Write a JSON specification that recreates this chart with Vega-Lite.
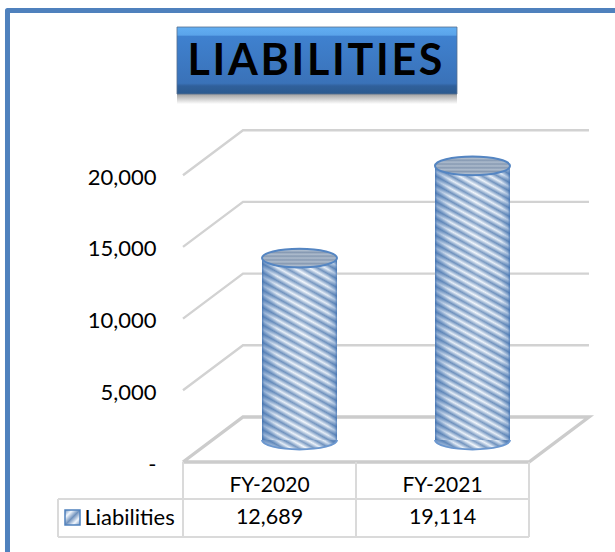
{
"$schema":"https://vega.github.io/schema/vega-lite/v6.json",
"width":615,"height":552,"padding":0,"autosize":{"type":"none"},"background":"white",
"view":{"stroke":null},
"config":{"text":{"font":"Lato","fontSize":21.5,"color":"#000"},"axis":{"labelFont":"Lato"}},
"datasets":{
"main":[{"year":"FY-2020","pos":0.5,"value":12689},{"year":"FY-2021","pos":1.5,"value":19114}],
"frame":[{"seq":1,"pos":-1.0145,"value":-6276},{"seq":2,"pos":-1.0145,"value":31485},{"seq":3,"pos":2.4971,"value":31485}],
"grid":[
{"level":5000,"pos":0,"value":5000},{"level":5000,"pos":0.3468,"value":8138},{"level":5000,"pos":2.3468,"value":8138},
{"level":10000,"pos":0,"value":10000},{"level":10000,"pos":0.3468,"value":13138},{"level":10000,"pos":2.3468,"value":13138},
{"level":15000,"pos":0,"value":15000},{"level":15000,"pos":0.3468,"value":18138},{"level":15000,"pos":2.3468,"value":18138},
{"level":20000,"pos":0,"value":20000},{"level":20000,"pos":0.3468,"value":23138},{"level":20000,"pos":2.3468,"value":23138}],
"floor":[{"seq":1,"pos":0,"value":0},{"seq":2,"pos":0.3468,"value":3138},{"seq":3,"pos":2.3468,"value":3138},{"seq":4,"pos":2,"value":0},{"seq":5,"pos":0,"value":0}],
"table":[
{"pos":-0.7225,"pos2":2,"value":-2580,"value2":-2580},
{"pos":-0.7225,"pos2":2,"value":-5230,"value2":-5230},
{"pos":-0.7225,"pos2":-0.7225,"value":-2580,"value2":-5230},
{"pos":0,"pos2":0,"value":0,"value2":-5230},
{"pos":1,"pos2":1,"value":0,"value2":-5230},
{"pos":2,"pos2":2,"value":0,"value2":-5230}],
"titleBox":[{"pos":-0.0347,"pos2":1.5838,"value":30335,"value2":25662}],
"titleText":[{"label":"L\u200aI\u200aA\u200aB\u200aI\u200aL\u200aI\u200aT\u200aI\u200aE\u200aS","pos":0.763,"value":27894}],
"titleShadow":[{"pos":-0.0347,"pos2":1.5838,"value":25662,"value2":24960}],
"swatch":[{"pos":-0.6821,"pos2":-0.5954,"value":-3347,"value2":-4393}]
},
"encoding":{
"x":{"field":"pos","type":"quantitative","scale":{"domain":[-1.0578,2.4971],"nice":false,"zero":false,"padding":0},"axis":null},
"y":{"field":"value","type":"quantitative","scale":{"domain":[-6276,32218],"nice":false,"zero":false,"padding":0},
"axis":{"title":null,"values":[0,5000,10000,15000,20000],"offset":-156,"domain":false,"ticks":false,"grid":false,"labelPadding":0,"labelOffset":2,"labelFontSize":22,"labelColor":"#000","labelFont":"Lato","labelOverlap":false,"labelBound":false,"labelFlush":false,"labelExpr":"datum.value==0?'-\u00a0\u00a0\u00a0':format(datum.value,',')"}}
},
"layer":[
{"data":{"name":"frame"},"mark":{"type":"line","stroke":"#4f81bd","strokeWidth":5,"strokeJoin":"round"},"encoding":{"order":{"field":"seq"}}},
{"data":{"name":"grid"},"mark":{"type":"line","stroke":"#d2d2d2","strokeWidth":2.4},"encoding":{"detail":{"field":"level"}}},
{"data":{"name":"floor"},"mark":{"type":"line","stroke":"#cccccc","strokeWidth":3.4},"encoding":{"order":{"field":"seq"}}},
{"data":{"name":"titleShadow"},"mark":{"type":"rect","fill":{"gradient":"linear","x1":0,"y1":0,"x2":0,"y2":1,"stops":[{"offset":0,"color":"#a0a0a0"},{"offset":1,"color":"#ffffff"}]}},"encoding":{"x2":{"field":"pos2"},"y2":{"field":"value2"}}},
{"data":{"name":"titleBox"},"mark":{"type":"rect","stroke":"#55708f","strokeWidth":0.8,"fill":{"gradient":"linear","x1":0,"y1":0,"x2":0,"y2":1,"stops":[{"offset":0,"color":"#62aef2"},{"offset":0.12,"color":"#5aa4ea"},{"offset":0.14,"color":"#3f81cf"},{"offset":0.84,"color":"#3a72b8"},{"offset":0.88,"color":"#30609b"},{"offset":1,"color":"#2c5a8e"}]}},"encoding":{"x2":{"field":"pos2"},"y2":{"field":"value2"}}},
{"data":{"name":"titleText"},"mark":{"type":"text","font":"Lato","fontWeight":"bold","fontSize":43,"align":"center","baseline":"middle","color":"#000"},"encoding":{"text":{"field":"label"}}},
{"data":{"name":"main"},"transform":[{"filter":"datum.year=='FY-2020'"}],"mark":{"type":"bar","width":75,"xOffset":30,"yOffset":-22,"y2Offset":-22,"fill":{"gradient":"linear","x1":0.261,"y1":-0.15,"x2":0.002,"y2":0.99,"stops":[
{"offset":0,"color":"#7092bd"},{"offset":0.02,"color":"#f2f7fd"},{"offset":0.04,"color":"#7092bd"},{"offset":0.06,"color":"#f2f7fd"},{"offset":0.08,"color":"#7092bd"},{"offset":0.1,"color":"#f2f7fd"},{"offset":0.12,"color":"#7092bd"},{"offset":0.14,"color":"#f2f7fd"},{"offset":0.16,"color":"#7092bd"},{"offset":0.18,"color":"#f2f7fd"},{"offset":0.2,"color":"#7092bd"},{"offset":0.22,"color":"#f2f7fd"},{"offset":0.24,"color":"#7092bd"},{"offset":0.26,"color":"#f2f7fd"},{"offset":0.28,"color":"#7092bd"},{"offset":0.3,"color":"#f2f7fd"},{"offset":0.32,"color":"#7092bd"},{"offset":0.34,"color":"#f2f7fd"},{"offset":0.36,"color":"#7092bd"},{"offset":0.38,"color":"#f2f7fd"},{"offset":0.4,"color":"#7092bd"},{"offset":0.42,"color":"#f2f7fd"},{"offset":0.44,"color":"#7092bd"},{"offset":0.46,"color":"#f2f7fd"},{"offset":0.48,"color":"#7092bd"},{"offset":0.5,"color":"#f2f7fd"},{"offset":0.52,"color":"#7092bd"},{"offset":0.54,"color":"#f2f7fd"},{"offset":0.56,"color":"#7092bd"},{"offset":0.58,"color":"#f2f7fd"},{"offset":0.6,"color":"#7092bd"},{"offset":0.62,"color":"#f2f7fd"},{"offset":0.64,"color":"#7092bd"},{"offset":0.66,"color":"#f2f7fd"},{"offset":0.68,"color":"#7092bd"},{"offset":0.7,"color":"#f2f7fd"},{"offset":0.72,"color":"#7092bd"},{"offset":0.74,"color":"#f2f7fd"},{"offset":0.76,"color":"#7092bd"},{"offset":0.78,"color":"#f2f7fd"},{"offset":0.8,"color":"#7092bd"},{"offset":0.82,"color":"#f2f7fd"},{"offset":0.84,"color":"#7092bd"},{"offset":0.86,"color":"#f2f7fd"},{"offset":0.88,"color":"#7092bd"},{"offset":0.9,"color":"#f2f7fd"},{"offset":0.92,"color":"#7092bd"},{"offset":0.94,"color":"#f2f7fd"},{"offset":0.96,"color":"#7092bd"},{"offset":0.98,"color":"#f2f7fd"},{"offset":1,"color":"#7092bd"}]}},"encoding":{"y2":{"datum":0}}},
{"data":{"name":"main"},"transform":[{"filter":"datum.year=='FY-2021'"}],"mark":{"type":"bar","width":75,"xOffset":30,"yOffset":-22,"y2Offset":-22,"fill":{"gradient":"linear","x1":0.169,"y1":-0.125,"x2":-0.013,"y2":1.087,"stops":[
{"offset":0,"color":"#7092bd"},{"offset":0.0125,"color":"#f2f7fd"},{"offset":0.025,"color":"#7092bd"},{"offset":0.0375,"color":"#f2f7fd"},{"offset":0.05,"color":"#7092bd"},{"offset":0.0625,"color":"#f2f7fd"},{"offset":0.075,"color":"#7092bd"},{"offset":0.0875,"color":"#f2f7fd"},{"offset":0.1,"color":"#7092bd"},{"offset":0.1125,"color":"#f2f7fd"},{"offset":0.125,"color":"#7092bd"},{"offset":0.1375,"color":"#f2f7fd"},{"offset":0.15,"color":"#7092bd"},{"offset":0.1625,"color":"#f2f7fd"},{"offset":0.175,"color":"#7092bd"},{"offset":0.1875,"color":"#f2f7fd"},{"offset":0.2,"color":"#7092bd"},{"offset":0.2125,"color":"#f2f7fd"},{"offset":0.225,"color":"#7092bd"},{"offset":0.2375,"color":"#f2f7fd"},{"offset":0.25,"color":"#7092bd"},{"offset":0.2625,"color":"#f2f7fd"},{"offset":0.275,"color":"#7092bd"},{"offset":0.2875,"color":"#f2f7fd"},{"offset":0.3,"color":"#7092bd"},{"offset":0.3125,"color":"#f2f7fd"},{"offset":0.325,"color":"#7092bd"},{"offset":0.3375,"color":"#f2f7fd"},{"offset":0.35,"color":"#7092bd"},{"offset":0.3625,"color":"#f2f7fd"},{"offset":0.375,"color":"#7092bd"},{"offset":0.3875,"color":"#f2f7fd"},{"offset":0.4,"color":"#7092bd"},{"offset":0.4125,"color":"#f2f7fd"},{"offset":0.425,"color":"#7092bd"},{"offset":0.4375,"color":"#f2f7fd"},{"offset":0.45,"color":"#7092bd"},{"offset":0.4625,"color":"#f2f7fd"},{"offset":0.475,"color":"#7092bd"},{"offset":0.4875,"color":"#f2f7fd"},{"offset":0.5,"color":"#7092bd"},{"offset":0.5125,"color":"#f2f7fd"},{"offset":0.525,"color":"#7092bd"},{"offset":0.5375,"color":"#f2f7fd"},{"offset":0.55,"color":"#7092bd"},{"offset":0.5625,"color":"#f2f7fd"},{"offset":0.575,"color":"#7092bd"},{"offset":0.5875,"color":"#f2f7fd"},{"offset":0.6,"color":"#7092bd"},{"offset":0.6125,"color":"#f2f7fd"},{"offset":0.625,"color":"#7092bd"},{"offset":0.6375,"color":"#f2f7fd"},{"offset":0.65,"color":"#7092bd"},{"offset":0.6625,"color":"#f2f7fd"},{"offset":0.675,"color":"#7092bd"},{"offset":0.6875,"color":"#f2f7fd"},{"offset":0.7,"color":"#7092bd"},{"offset":0.7125,"color":"#f2f7fd"},{"offset":0.725,"color":"#7092bd"},{"offset":0.7375,"color":"#f2f7fd"},{"offset":0.75,"color":"#7092bd"},{"offset":0.7625,"color":"#f2f7fd"},{"offset":0.775,"color":"#7092bd"},{"offset":0.7875,"color":"#f2f7fd"},{"offset":0.8,"color":"#7092bd"},{"offset":0.8125,"color":"#f2f7fd"},{"offset":0.825,"color":"#7092bd"},{"offset":0.8375,"color":"#f2f7fd"},{"offset":0.85,"color":"#7092bd"},{"offset":0.8625,"color":"#f2f7fd"},{"offset":0.875,"color":"#7092bd"},{"offset":0.8875,"color":"#f2f7fd"},{"offset":0.9,"color":"#7092bd"},{"offset":0.9125,"color":"#f2f7fd"},{"offset":0.925,"color":"#7092bd"},{"offset":0.9375,"color":"#f2f7fd"},{"offset":0.95,"color":"#7092bd"},{"offset":0.9625,"color":"#f2f7fd"},{"offset":0.975,"color":"#7092bd"},{"offset":0.9875,"color":"#f2f7fd"},{"offset":1,"color":"#7092bd"}]}},"encoding":{"y2":{"datum":0}}},
{"data":{"name":"main"},"mark":{"type":"point","filled":true,"opacity":1,"size":5625,"shape":"M-1,0A1,0.25 0 0,0 1,0","xOffset":30,"yOffset":-22,"fill":{"gradient":"linear","x1":0,"y1":1,"x2":1.229,"y2":0.72,"stops":[{"offset":0,"color":"#f2f7fd"},{"offset":0.08,"color":"#7092bd"},{"offset":0.16,"color":"#f2f7fd"},{"offset":0.24,"color":"#7092bd"},{"offset":0.32,"color":"#f2f7fd"},{"offset":0.4,"color":"#7092bd"},{"offset":0.48,"color":"#f2f7fd"},{"offset":0.56,"color":"#7092bd"},{"offset":0.64,"color":"#f2f7fd"},{"offset":0.72,"color":"#7092bd"},{"offset":0.8,"color":"#f2f7fd"},{"offset":0.88,"color":"#7092bd"},{"offset":1,"color":"#f2f7fd"}]}},"encoding":{"y":{"datum":0}}},
{"data":{"name":"main"},"mark":{"type":"point","filled":true,"opacity":1,"size":5625,"shape":"M-1,0A1,0.25 0 0,0 1,0","xOffset":30,"yOffset":-22,"stroke":"#6b97cf","strokeWidth":2,"fill":{"gradient":"linear","x1":0,"y1":0.5,"x2":1,"y2":0.5,"stops":[{"offset":0,"color":"rgba(60,110,175,0.7)"},{"offset":0.25,"color":"rgba(70,120,180,0.1)"},{"offset":0.55,"color":"rgba(255,255,255,0.1)"},{"offset":0.85,"color":"rgba(70,120,180,0.1)"},{"offset":1,"color":"rgba(60,110,175,0.7)"}]}},"encoding":{"y":{"datum":0}}},
{"data":{"name":"main"},"mark":{"type":"bar","width":75,"xOffset":30,"yOffset":-22,"y2Offset":-22,"fill":{"gradient":"linear","x1":0,"y1":0.5,"x2":1,"y2":0.5,"stops":[{"offset":0,"color":"rgba(60,110,175,0.85)"},{"offset":0.03,"color":"rgba(60,110,175,0.5)"},{"offset":0.2,"color":"rgba(70,120,180,0.08)"},{"offset":0.55,"color":"rgba(255,255,255,0.12)"},{"offset":0.88,"color":"rgba(70,120,180,0.08)"},{"offset":0.97,"color":"rgba(60,110,175,0.4)"},{"offset":1,"color":"rgba(60,110,175,0.8)"}]}},"encoding":{"y2":{"datum":0}}},
{"data":{"name":"main"},"mark":{"type":"point","filled":true,"opacity":1,"size":5625,"shape":"M-1,0A1,0.25 0 1,1 1,0A1,0.25 0 1,1 -1,0Z","xOffset":30,"yOffset":-22,"stroke":"#5485c2","strokeWidth":2,"fill":{"gradient":"linear","x1":0,"y1":0,"x2":0,"y2":1,"stops":[{"offset":0,"color":"#8699b2"},{"offset":0.1,"color":"#aebccd"},{"offset":0.2,"color":"#8699b2"},{"offset":0.3,"color":"#aebccd"},{"offset":0.4,"color":"#8699b2"},{"offset":0.5,"color":"#aebccd"},{"offset":0.6,"color":"#8699b2"},{"offset":0.7,"color":"#aebccd"},{"offset":0.8,"color":"#8699b2"},{"offset":0.9,"color":"#aebccd"},{"offset":1,"color":"#8699b2"}]}}},
{"data":{"name":"table"},"mark":{"type":"rule","stroke":"#dadada","strokeWidth":2},"encoding":{"x2":{"field":"pos2"},"y2":{"field":"value2"}}},
{"data":{"name":"main"},"mark":{"type":"text","align":"center","baseline":"middle","fontSize":21},"encoding":{"y":{"datum":-1674},"text":{"field":"year"}}},
{"data":{"name":"main"},"mark":{"type":"text","align":"center","baseline":"middle"},"encoding":{"y":{"datum":-3905},"text":{"field":"value","format":","}}},
{"data":{"name":"swatch"},"mark":{"type":"rect","stroke":"#4f81bd","strokeWidth":1.5,"fill":{"gradient":"linear","x1":0,"y1":0,"x2":1,"y2":1,"stops":[{"offset":0,"color":"#7092bd"},{"offset":0.25,"color":"#f2f7fd"},{"offset":0.5,"color":"#7092bd"},{"offset":0.75,"color":"#f2f7fd"},{"offset":1,"color":"#7092bd"}]}},"encoding":{"x2":{"field":"pos2"},"y2":{"field":"value2"}}},
{"data":{"values":[{"series":"Liabilities","pos":-0.57,"value":-3905}]},"mark":{"type":"text","align":"left","baseline":"middle","fontSize":22},"encoding":{"text":{"field":"series"}}}
]
}
